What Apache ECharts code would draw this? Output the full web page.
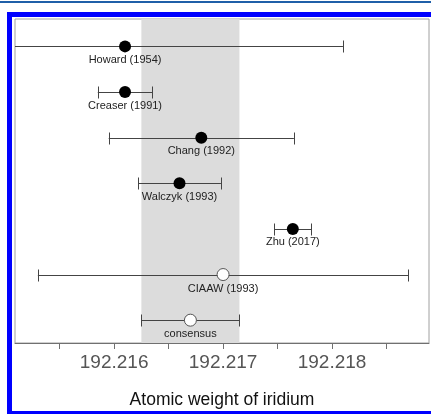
<!DOCTYPE html>
<html>
<head>
<meta charset="utf-8">
<style>
  html, body { margin: 0; padding: 0; background: #ffffff; }
  #chart { width: 431px; height: 414px; }
</style>
<script src="https://cdn.jsdelivr.net/npm/echarts@6/dist/echarts.min.js"></script>
</head>
<body>
<div id="chart"></div>
<script>
// Published determinations of the atomic weight of iridium (top to bottom)
var studies = ['Howard (1954)', 'Creaser (1991)', 'Chang (1992)', 'Walczyk (1993)', 'Zhu (2017)', 'CIAAW (1993)', 'consensus'];
var weights = [192.2161, 192.2161, 192.2168, 192.2166, 192.21764, 192.2170, 192.2167];
var uncertainties = [0.0020, 0.00025, 0.00085, 0.00038, 0.00017, 0.0017, 0.00045];
var isMeasurement = [true, true, true, true, true, false, false];

// Axis ticks and labels
var tickValues = [192.2155, 192.216, 192.2165, 192.217, 192.2175, 192.218, 192.2185];
var labelValues = [192.216, 192.217, 192.218];
var xTitle = 'Atomic weight of iridium';

var FONT = '"Liberation Sans", Arial, Helvetica, sans-serif';

var barData = studies.map(function (s, i) {
  return [i, weights[i] - uncertainties[i], weights[i] + uncertainties[i]];
});
var pointData = studies.map(function (s, i) {
  var filled = isMeasurement[i];
  return {
    value: [weights[i], i],
    name: s,
    itemStyle: filled
      ? { color: '#000000', borderColor: '#000000', borderWidth: 0, opacity: 1 }
      : { color: '#ffffff', borderColor: '#555555', borderWidth: 1, opacity: 1 }
  };
});
var ci = studies.length - 1;
var bandLo = weights[ci] - uncertainties[ci];
var bandHi = weights[ci] + uncertainties[ci];

var chart = echarts.init(document.getElementById('chart'), null, { renderer: 'canvas' });

chart.setOption({
  backgroundColor: '#ffffff',
  animation: false,
  graphic: [
    { type: 'rect', shape: { x: 0, y: 1, width: 431, height: 2 }, style: { fill: '#1f5fa8' }, silent: true },
    { type: 'rect', shape: { x: 7, y: 12, width: 5, height: 402 }, style: { fill: '#0000ff' }, silent: true },
    { type: 'rect', shape: { x: 7, y: 12, width: 424, height: 5 }, style: { fill: '#0000ff' }, silent: true },
    { type: 'rect', shape: { x: 7, y: 411, width: 424, height: 3 }, style: { fill: '#0000ff' }, silent: true }
  ],
  grid: {
    left: 15, right: 2, top: 19, bottom: 71,
    show: true, borderColor: '#a0a0a0', borderWidth: 1, backgroundColor: 'transparent'
  },
  xAxis: {
    type: 'value',
    min: 192.21509,
    max: 192.21889,
    position: 'bottom',
    splitLine: { show: false },
    axisLine: { show: true, onZero: false, lineStyle: { color: '#707070', width: 1 } },
    axisTick: {
      show: true, inside: false, length: 6,
      customValues: tickValues,
      lineStyle: { color: '#707070', width: 1 }
    },
    axisLabel: {
      customValues: labelValues,
      formatter: function (v) { return Number(v).toFixed(3); },
      color: '#555555', fontFamily: FONT, fontSize: 19, margin: 10
    },
    name: xTitle,
    nameLocation: 'middle',
    nameGap: 48,
    nameTextStyle: { color: '#111111', fontFamily: FONT, fontSize: 17.5 }
  },
  yAxis: {
    type: 'value', min: -0.6, max: 6.5, inverse: true,
    show: false, splitLine: { show: false }
  },
  series: [
    {
      // consensus band
      type: 'line', data: [], z: 1, silent: true,
      markArea: {
        silent: true,
        itemStyle: { color: '#dcdcdc' },
        data: [[{ xAxis: bandLo }, { xAxis: bandHi }]]
      }
    },
    {
      // horizontal error bars with end caps, clipped to the plot box
      type: 'custom', z: 2, silent: true,
      encode: { x: [1, 2], y: 0 },
      data: barData,
      renderItem: function (params, api) {
        var row = api.value(0);
        var pLo = api.coord([api.value(1), row]);
        var pHi = api.coord([api.value(2), row]);
        var cs = params.coordSys;
        var left = cs.x, right = cs.x + cs.width;
        var y = Math.round(pLo[1]) + 0.5;
        var x1 = Math.max(pLo[0], left), x2 = Math.min(pHi[0], right);
        var cap = 6;
        var st = { stroke: '#444444', lineWidth: 1 };
        var children = [{ type: 'line', shape: { x1: x1, y1: y, x2: x2, y2: y }, style: st }];
        if (pLo[0] >= left) {
          var a = Math.round(pLo[0]) + 0.5;
          children.push({ type: 'line', shape: { x1: a, y1: y - cap, x2: a, y2: y + cap }, style: st });
        }
        if (pHi[0] <= right) {
          var b = Math.round(pHi[0]) + 0.5;
          children.push({ type: 'line', shape: { x1: b, y1: y - cap, x2: b, y2: y + cap }, style: st });
        }
        return { type: 'group', children: children };
      }
    },
    {
      type: 'scatter', z: 3, silent: true,
      symbol: 'circle', symbolSize: 12,
      itemStyle: { opacity: 1 },
      data: pointData,
      label: {
        show: true, position: 'bottom', distance: 2,
        formatter: function (p) { return p.name; },
        color: '#222222', fontFamily: FONT, fontSize: 11
      }
    }
  ]
});
</script>
</body>
</html>
